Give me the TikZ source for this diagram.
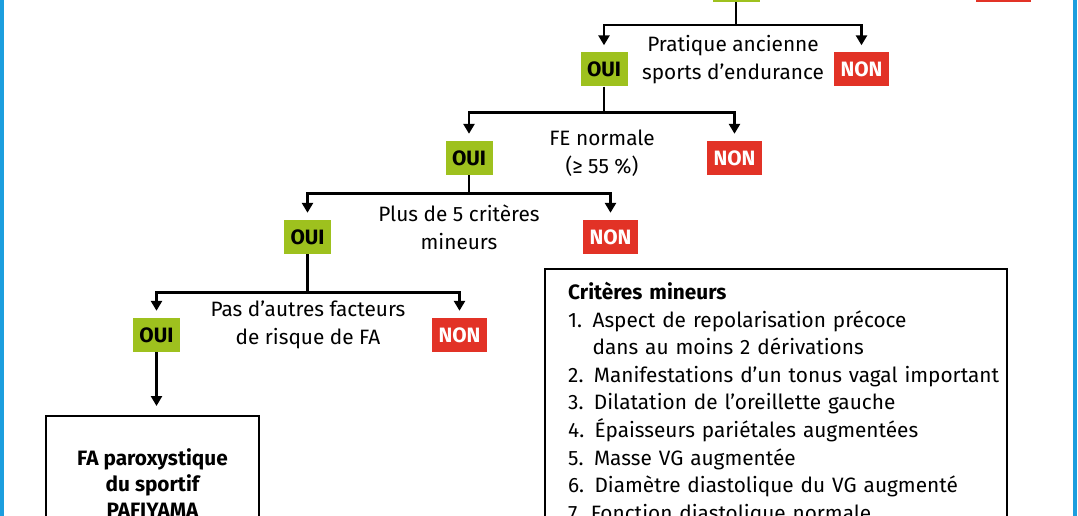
\documentclass[tikz,border=0pt]{standalone}
\usepackage{fontspec}
\setmainfont{Fira Sans}
\usepackage{tikz}
\usetikzlibrary{arrows.meta}

\definecolor{ouigreen}{RGB}{158,193,30}
\definecolor{nonred}{RGB}{226,50,38}
\definecolor{frameblue}{RGB}{28,158,222}
\newcommand{\diagfont}{\fontsize{20.8}{27.6}\selectfont}

\tikzset{
    oui/.style={fill=ouigreen, text=black, font=\diagfont\bfseries,
        minimum width=47pt, minimum height=34pt, inner sep=0pt},
    non/.style={fill=nonred, text=white, font=\diagfont\bfseries,
        minimum width=55pt, minimum height=34pt, inner sep=0pt},
    question/.style={align=center, inner sep=0pt, font=\diagfont},
    stem/.style={line width=2.6pt},
    branch/.style={line width=2.6pt, -{Triangle[width=11pt,length=10pt]}, shorten >=7pt},
    panel/.style={draw, line width=2.4pt}
}

\begin{document}
\begin{tikzpicture}[x=1pt, y=-1pt]
    \useasboundingbox (0,0) rectangle (1078,516);
    \clip (0,0) rectangle (1078,516);
    % blue frame
    \draw[frameblue, line width=4pt] (2,-10) -- (2,530) (1075,-10) -- (1075,530);
    % level 0 (cut off)
    \node[oui] (oui0) at (736,-15) {};
    \node[non] (non0) at (1003,-15) {};
    % level 1
    \node[oui] (oui1) at (604,69.5) {OUI};
    \node[non] (non1) at (861.5,69.5) {NON};
    \node[question] (q1) at (733,59.5) {Pratique ancienne\\sports d’endurance};
    % level 2
    \node[oui] (oui2) at (469,158) {OUI};
    \node[non] (non2) at (734.5,158) {NON};
    \node[question] (q2) at (602,153.5) {FE normale\\(≥ 55 \%)};
    % level 3
    \node[oui] (oui3) at (307.5,237) {OUI};
    \node[non] (non3) at (610.5,237) {NON};
    \node[question] (q3) at (459,227.5) {Plus de 5 critères\\mineurs};
    % level 4
    \node[oui] (oui4) at (156.5,335) {OUI};
    \node[non] (non4) at (459.5,335) {NON};
    \node[question] (q4) at (308,325) {Pas d’autres facteurs\\de risque de FA};
    % result
    \node[panel, anchor=north, minimum width=213pt, minimum height=134pt,
        align=center, font=\fontsize{20.8}{26}\selectfont\bfseries] (result) at (152.5,415)
        {FA paroxystique\\du sportif\\PAFIYAMA};
    % criteria
    \node[panel, anchor=north west, inner xsep=0pt, inner ysep=11pt,
        text width=462pt, align=left, font=\diagfont] (criteres) at (544,268)
        {\hspace*{23pt}\begin{tabular}[t]{@{}l@{}}
        \textbf{Critères mineurs}\\
        1. Aspect de repolarisation précoce\\
        \phantom{1. }dans au moins 2 dérivations\\
        2. Manifestations d’un tonus vagal important\\
        3. Dilatation de l’oreillette gauche\\
        4. Épaisseurs pariétales augmentées\\
        5. Masse VG augmentée\\
        6. Diamètre diastolique du VG augmenté\\
        7. Fonction diastolique normale
        \end{tabular}};
    % connectors
    \draw[stem] (oui0.south) -- ++(0,23) coordinate (b0);
    \draw[branch] (b0) -| (oui1.north);
    \draw[branch] (b0) -| (non1.north);
    \draw[stem] (oui1.south) -- ++(0,26) coordinate (b1);
    \draw[branch] (b1) -| (oui2.north);
    \draw[branch] (b1) -| (non2.north);
    \draw[stem] (oui2.south) -- ++(0,18) coordinate (b2);
    \draw[branch] (b2) -| (oui3.north);
    \draw[branch] (b2) -| (non3.north);
    \draw[stem] (oui3.south) -- ++(0,38) coordinate (b3);
    \draw[branch] (b3) -| (oui4.north);
    \draw[branch] (b3) -| (non4.north);
    \draw[branch, shorten >=9pt] (oui4.south) -- (oui4.south |- result.north);
\end{tikzpicture}
\end{document}
